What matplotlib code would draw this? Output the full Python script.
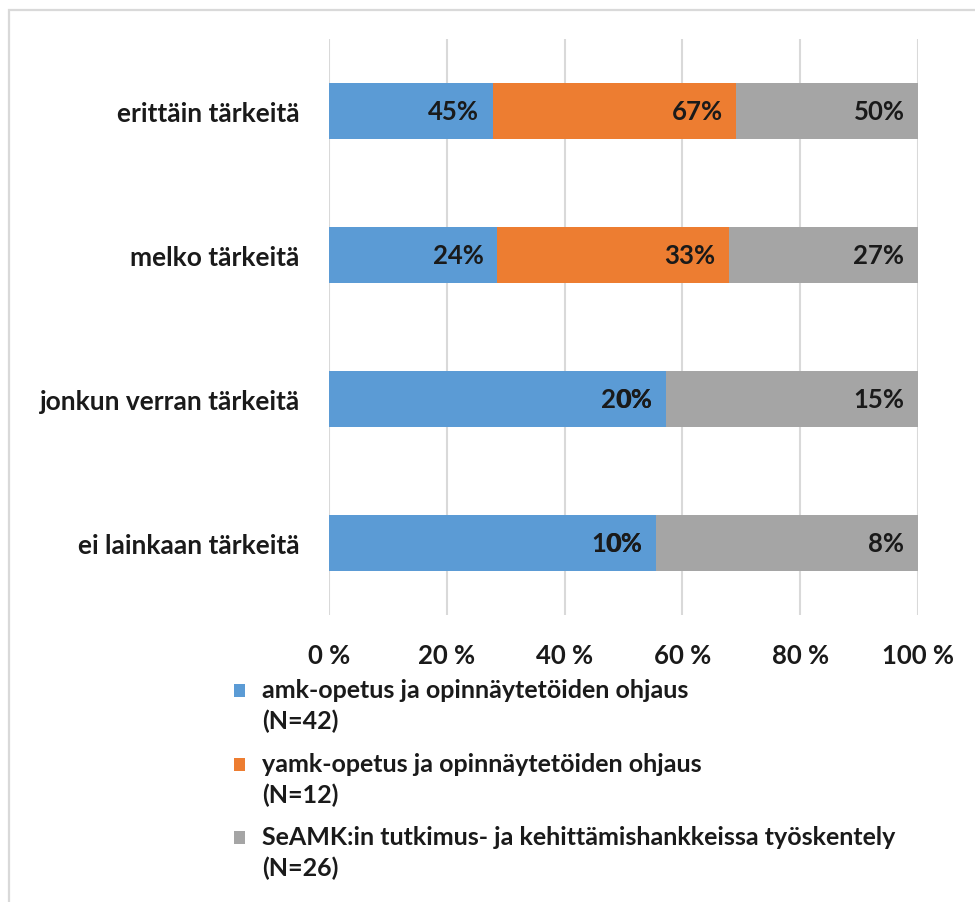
import numpy as np
import matplotlib.pyplot as plt
from matplotlib.patches import Rectangle

# Data
categories = ["erittäin tärkeitä", "melko tärkeitä", "jonkun verran tärkeitä", "ei lainkaan tärkeitä"]
series_names = [
    "amk-opetus ja opinnäytetöiden ohjaus\n(N=42)",
    "yamk-opetus ja opinnäytetöiden ohjaus\n(N=12)",
    "SeAMK:in tutkimus- ja kehittämishankkeissa työskentely\n(N=26)",
]
amk = [45, 24, 20, 10]
yamk = [67, 33, 0, 0]
seamk = [50, 27, 15, 8]
colors = ["#5B9BD5", "#ED7D31", "#A5A5A5"]
xticks = [0, 20, 40, 60, 80, 100]
xtick_labels = ["0 %", "20 %", "40 %", "60 %", "80 %", "100 %"]

plt.rcParams["font.family"] = ["Lato", "DejaVu Sans"]

W, H = 975, 903
fig = plt.figure(figsize=(W / 100, H / 100), dpi=100)

# chart border (only left and top edges fall inside the picture)
fig.patches.append(Rectangle((9 / W, -0.1), 1.2, 1 - 11 / H + 0.1, transform=fig.transFigure,
                             fill=False, edgecolor="#D9D9D9", linewidth=1.6))

ax = fig.add_axes([329 / W, 1 - 616 / H, 589 / W, 576 / H])

raw = np.array([amk, yamk, seamk], dtype=float)
share = raw / raw.sum(axis=0) * 100
y = np.arange(len(categories))

left = np.zeros(len(categories))
for i in range(3):
    ax.barh(y, share[i], left=left, height=0.39, color=colors[i], zorder=2)
    for j in range(len(categories)):
        ax.text(left[j] + share[i][j] - 2.3, y[j], f"{int(raw[i][j])}%", ha="right", va="center",
                fontsize=18.5, fontweight="bold", color="#1a1a1a", zorder=3)
    left += share[i]

ax.set_xlim(0, 100)
ax.set_ylim(len(categories) - 0.5, -0.5)
ax.set_yticks(y)
ax.set_yticklabels(categories, fontsize=19, fontweight="bold", color="#1a1a1a")
ax.set_xticks(xticks)
ax.set_xticklabels(xtick_labels, fontsize=18.5, fontweight="bold", color="#1a1a1a")
ax.tick_params(length=0, pad=21, axis="y")
ax.tick_params(length=0, pad=20, axis="x")
ax.grid(axis="x", color="#D9D9D9", linewidth=1.5, zorder=0)
for s in ax.spines.values():
    s.set_visible(False)

# legend, drawn by hand so the swatch sits beside the first line
entry_centers = [706, 780, 853]
for name, c, yc in zip(series_names, colors, entry_centers):
    fig.patches.append(Rectangle((234 / W, 1 - (yc - 8) / H), 11 / W, 13 / H,
                                 transform=fig.transFigure, facecolor=c, edgecolor="none"))
    fig.text(262 / W, 1 - yc / H, name, ha="left", va="center", fontsize=18, fontweight="bold",
             color="#1a1a1a", linespacing=1.36)

fig.savefig("out.png", dpi=100)
